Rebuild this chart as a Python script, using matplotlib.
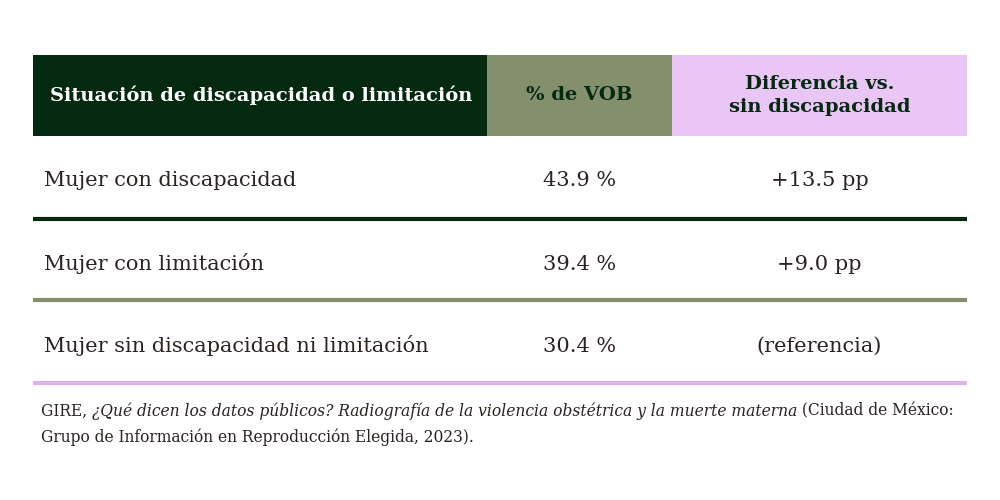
import matplotlib
matplotlib.use("Agg")
import matplotlib.pyplot as plt
from matplotlib.patches import Rectangle

# table content
headers = ["Situación de discapacidad o limitación", "% de VOB", "Diferencia vs.\nsin discapacidad"]
row_labels = ["Mujer con discapacidad", "Mujer con limitación", "Mujer sin discapacidad ni limitación"]
vob_pct = [43.9, 39.4, 30.4]
diff_pp = ["+13.5 pp", "+9.0 pp", "(referencia)"]

# footer pieces: (text, italic?)
source_line1 = [
    ("GIRE, ", False),
    ("¿Qué dicen los datos públicos? Radiografía de la violencia obstétrica y la muerte materna", True),
    (" (Ciudad de México:", False),
]
source_line2 = "Grupo de Información en Reproducción Elegida, 2023)."

DARK = "#03290f"
OLIVE = "#848f6e"
LILAC = "#e9c6f6"
LILAC_LINE = "#dcb2ec"
TEXT = "#2b2221"
FONT = "DejaVu Serif"

col_edges = [33, 487, 672, 967]
header_top, header_bot = 55, 136
row_centers = [179, 262, 344]
line_ys = [219, 300, 383]
line_colors = [DARK, OLIVE, LILAC_LINE]
header_fills = [DARK, OLIVE, LILAC]
header_text_colors = ["white", DARK, DARK]

fig = plt.figure(figsize=(10, 5), dpi=100)
ax = fig.add_axes([0, 0, 1, 1])
ax.set_xlim(0, 1000)
ax.set_ylim(500, 0)
ax.axis("off")

for i, h in enumerate(headers):
    x0, x1 = col_edges[i], col_edges[i + 1]
    ax.add_patch(Rectangle((x0, header_top), x1 - x0, header_bot - header_top,
                           facecolor=header_fills[i], edgecolor="none"))
    if i == 0:
        ax.text(x0 + 17, (header_top + header_bot) / 2, h, ha="left", va="center",
                fontsize=14, fontweight="bold", family=FONT, color=header_text_colors[i])
    else:
        ax.text((x0 + x1) / 2, (header_top + header_bot) / 2, h, ha="center", va="center",
                fontsize=14, fontweight="bold", family=FONT, color=header_text_colors[i],
                linespacing=1.35)

for r, label in enumerate(row_labels):
    y = row_centers[r]
    ax.text(col_edges[0] + 11, y, label, ha="left", va="center_baseline",
            fontsize=15, family=FONT, color=TEXT)
    ax.text((col_edges[1] + col_edges[2]) / 2, y, f"{vob_pct[r]:.1f} %", ha="center",
            va="center_baseline", fontsize=15, family=FONT, color=TEXT)
    ax.text((col_edges[2] + col_edges[3]) / 2, y, diff_pp[r], ha="center",
            va="center_baseline", fontsize=15, family=FONT, color=TEXT)
    ax.plot([col_edges[0], col_edges[3]], [line_ys[r], line_ys[r]],
            color=line_colors[r], lw=3, solid_capstyle="butt")

# footer: place roman / italic pieces one after another
fig.canvas.draw()
renderer = fig.canvas.get_renderer()
inv = ax.transData.inverted()
x = 41
for txt, ital in source_line1:
    t = ax.text(x, 411, txt, ha="left", va="center", fontsize=11.2, family=FONT,
                style="italic" if ital else "normal", color=TEXT)
    bb = t.get_window_extent(renderer)
    x = inv.transform((bb.x1, bb.y0))[0]
ax.text(41, 437, source_line2, ha="left", va="center", fontsize=11.2, family=FONT, color=TEXT)

fig.savefig("out.png", dpi=100, facecolor="white")
